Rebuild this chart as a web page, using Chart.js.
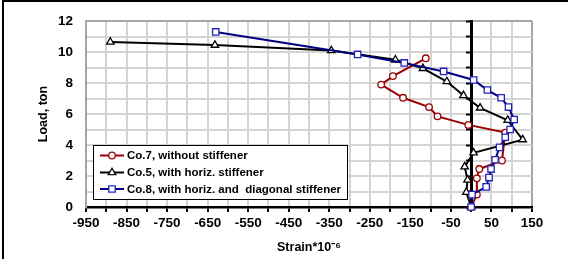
<!DOCTYPE html>
<html>
<head>
<meta charset="utf-8">
<script src="https://cdn.jsdelivr.net/npm/chart.js@4"></script>
<style>
  body { margin: 0; background: #fff; }
  #wrap { position: relative; width: 568px; height: 259px; }
  .edge { position: absolute; background: #000; }
</style>
</head>
<body>
<div id="wrap">
  <canvas id="strainChart" width="568" height="259"></canvas>
  <div class="edge" style="left:2px;top:0;width:2px;height:259px"></div>
  <div class="edge" style="left:2px;top:0;width:566px;height:2px"></div>
</div>
<script>
// strain readings (micro-strain) and load (ton) for each column
const co7Strain = [0, 14, 14, 20, 76, 84, -7, -83, -104, -168, -222, -193, -112];
const co7Load   = [0, 0.8, 1.85, 2.45, 3.0, 4.8, 5.3, 5.85, 6.45, 7.05, 7.9, 8.45, 9.6];

const co5Strain = [0, -12, -9, -16, 6, 127, 90, 22, -19, -60, -119, -187, -345, -632, -890];
const co5Load   = [0, 0.95, 1.75, 2.6, 3.5, 4.35, 5.6, 6.4, 7.2, 8.1, 8.95, 9.5, 10.1, 10.45, 10.65];

const co8Strain = [0, 2, 37, 44, 49, 59, 70, 84, 96, 106, 92, 74, 40, 6, -68, -165, -280, -630];
const co8Load   = [0, 0.8, 1.3, 1.9, 2.45, 3.05, 3.85, 4.5, 5.0, 5.65, 6.45, 7.05, 7.55, 8.2, 8.75, 9.3, 9.85, 11.3];

const seriesNames = ['Co.7, without stiffener', 'Co.5, with horiz. stiffener', 'Co.8, with horiz. and  diagonal stiffener'];
const xTickLabels = [-950, -850, -750, -650, -550, -450, -350, -250, -150, -50, 50, 150];
const yTickLabels = [0, 2, 4, 6, 8, 10, 12];

const toPoints = (xs, ys) => xs.map((x, i) => ({ x: x, y: ys[i] }));

Chart.defaults.font.family = "'Liberation Sans', Arial, sans-serif";
Chart.defaults.font.weight = 'bold';
Chart.defaults.color = '#000';

// legend box drawn inside the plot, lower left
const boxLegend = {
  id: 'boxLegend',
  afterDraw(chart) {
    const c = chart.ctx;
    const rows = [155.5, 172.5, 189];
    c.save();
    c.fillStyle = '#fff';
    c.fillRect(93.5, 145.5, 254, 54);
    c.strokeStyle = '#000';
    c.lineWidth = 1;
    c.strokeRect(93.5, 145.5, 254, 54);
    chart.data.datasets.forEach((ds, i) => {
      const y = rows[i];
      c.strokeStyle = ds.borderColor;
      c.lineWidth = ds.borderWidth;
      c.beginPath();
      c.moveTo(100, y);
      c.lineTo(124, y);
      c.stroke();
      c.fillStyle = '#fff';
      c.strokeStyle = ds.pointBorderColor;
      c.lineWidth = ds.pointBorderWidth;
      Chart.helpers.drawPoint(c, { pointStyle: ds.pointStyle, radius: ds.pointRadius, rotation: 0, borderWidth: ds.pointBorderWidth }, 112, y);
      c.fillStyle = '#000';
      c.font = "bold 11.5px 'Liberation Sans', Arial, sans-serif";
      c.textBaseline = 'middle';
      c.fillText(seriesNames[i], 127, y + 0.5);
    });
    c.restore();
  }
};

const ctx = document.getElementById('strainChart').getContext('2d');

const strainChart = new Chart(ctx, {
  type: 'line',
  data: {
    datasets: [{
      label: seriesNames[0],
      data: toPoints(co7Strain, co7Load),
      borderColor: '#990000',
      borderWidth: 2,
      pointStyle: 'circle',
      pointRadius: 3.3,
      pointBorderColor: '#990000',
      pointBackgroundColor: '#fff',
      pointBorderWidth: 1.3,
      order: 3
    }, {
      label: seriesNames[1],
      data: toPoints(co5Strain, co5Load),
      borderColor: '#000',
      borderWidth: 2,
      pointStyle: 'triangle',
      pointRadius: 4.3,
      pointBorderColor: '#000',
      pointBackgroundColor: '#fff',
      pointBorderWidth: 1.3,
      order: 2
    }, {
      label: seriesNames[2],
      data: toPoints(co8Strain, co8Load),
      borderColor: '#000080',
      borderWidth: 2,
      pointStyle: 'rect',
      pointRadius: 4.5,
      pointBorderColor: '#2222bb',
      pointBackgroundColor: '#fff',
      pointBorderWidth: 1.3,
      order: 1
    }]
  },
  options: {
    responsive: false,
    animation: false,
    clip: false,
    layout: { padding: { left: 36, top: 19, right: 36, bottom: 0 } },
    elements: { line: { tension: 0, fill: false } },
    scales: {
      x: {
        type: 'linear',
        min: -950,
        max: 150,
        afterFit: (s) => { s.height = 52; },
        ticks: {
          stepSize: 50,
          padding: 3,
          maxRotation: 0,
          autoSkip: false,
          font: { size: 13.5, weight: 'bold' },
          callback: (v) => xTickLabels.includes(v) ? String(v) : ''
        },
        grid: {
          color: (c) => c.tick && c.tick.value === 150 ? '#a6a6a6' : '#d4d4d4',
          lineWidth: 2,
          tickColor: '#000',
          tickLength: 5,
          tickWidth: 2
        },
        border: { color: '#000', width: 2.5 },
        title: {
          display: true,
          text: 'Strain*10⁻⁶',
          font: { size: 12.5, weight: 'bold' },
          padding: { top: 0, bottom: 4 }
        }
      },
      y: {
        min: 0,
        max: 12,
        afterFit: (s) => { s.width = 50; },
        ticks: {
          stepSize: 1,
          padding: 13,
          autoSkip: false,
          font: { size: 13.5, weight: 'bold' },
          callback: (v) => yTickLabels.includes(v) ? String(v) : ''
        },
        grid: {
          color: (c) => c.tick && c.tick.value === 12 ? '#a6a6a6' : '#d4d4d4',
          lineWidth: 2,
          drawTicks: false
        },
        border: { color: '#a6a6a6', width: 2 },
        title: {
          display: true,
          text: 'Load, ton',
          font: { size: 12.5, weight: 'bold' },
          padding: 0
        }
      },
      y0: {
        axis: 'y',
        position: { x: 0 },
        min: 0,
        max: 12,
        ticks: { stepSize: 1, display: false },
        grid: {
          drawOnChartArea: false,
          drawTicks: true,
          tickLength: 4,
          tickColor: '#000',
          tickWidth: 2
        },
        border: { color: '#000', width: 3 }
      }
    },
    plugins: {
      legend: { display: false },
      tooltip: { enabled: false }
    }
  },
  plugins: [boxLegend]
});
</script>
</body>
</html>
